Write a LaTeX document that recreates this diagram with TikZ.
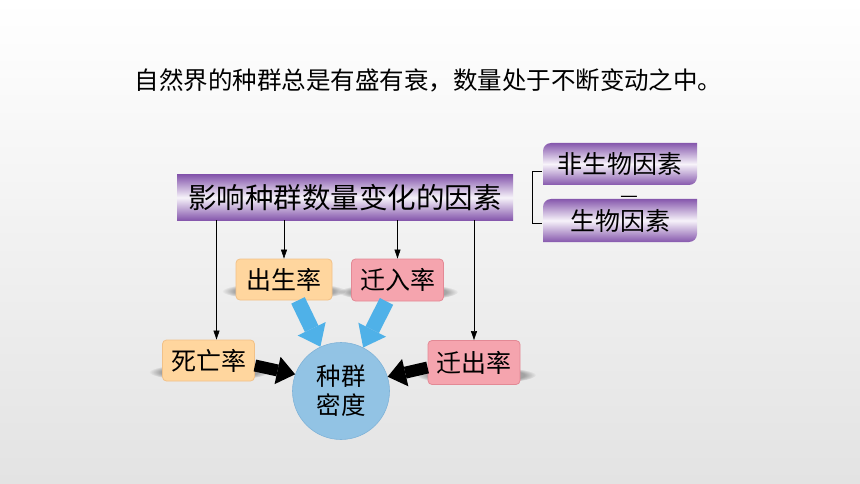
\documentclass[tikz,border=0pt]{standalone}
\usepackage{fontspec}
\setmainfont{Noto Sans CJK SC}
\usetikzlibrary{arrows.meta,calc,fadings,backgrounds}
\definecolor{pur}{HTML}{8658AD}
\definecolor{purlight}{HTML}{F7F3FA}
\definecolor{orangebox}{HTML}{FFD69E}
\definecolor{orangeedge}{HTML}{F1C188}
\definecolor{pinkbox}{HTML}{F5A4AE}
\definecolor{pinkedge}{HTML}{E38995}
\definecolor{densfill}{HTML}{92C3E4}
\definecolor{densedge}{HTML}{80B3D8}
\definecolor{bluearr}{HTML}{4FB1E8}
\newcommand\nwsebox[1]{%
  \shade[purshade] (#1.south west) -- ($(#1.north west)+(0,8)$)
    .. controls ($(#1.north west)+(0,3.6)$) and ($(#1.north west)+(3.6,0)$) .. ($(#1.north west)+(8,0)$)
    -- (#1.north east) -- ($(#1.south east)+(0,-8)$)
    .. controls ($(#1.south east)+(0,-3.6)$) and ($(#1.south east)+(-3.6,0)$) .. ($(#1.south east)+(-8,0)$)
    -- cycle;}
\begin{document}
\begin{tikzpicture}[x=1pt,y=-1pt,
  purshade/.style={top color=pur,bottom color=pur,middle color=purlight},
  purnode/.style={inner sep=0pt,outer sep=0pt,font=\fontsize{25}{28}\selectfont},
  smallbox/.style={rounded corners=4pt,line width=0.8pt,inner sep=0pt,
    minimum width=92pt,minimum height=42pt,font=\fontsize{25}{28}\selectfont},
  orbox/.style={smallbox,fill=orangebox,draw=orangeedge},
  pkbox/.style={smallbox,fill=pinkbox,draw=pinkedge},
  thinarr/.style={line width=0.6pt,-{Triangle[length=9pt,width=6pt]}},
  bluearrow/.style={line width=15pt,draw=bluearr,
    -{Triangle[length=20pt,width=31pt,line width=0pt]}},
  blackarrow/.style={line width=12pt,draw=black,
    -{Triangle[length=18pt,width=28pt,line width=0pt]}},
  shadowfx/.style={black,opacity=0.3,path fading=circle with fuzzy edge 20 percent}]
\useasboundingbox (0,0) rectangle (860,484);
\begin{scope}[on background layer]
  \shade[top color=white,bottom color=black!11] (0,0) rectangle (860,484);
\end{scope}

% title
\node (title) at (428.5,80) {\fontsize{24.5}{28}\selectfont 自然界的种群总是有盛有衰，数量处于不断变动之中。};

% main box
\node[purnode,minimum width=336pt,minimum height=45pt,font=\fontsize{28.5}{32}\selectfont]
  (main) at (345,197.5) {影响种群数量变化的因素};
% right boxes
\node[purnode,minimum width=154pt,minimum height=42pt] (abio) at (620,164) {非生物因素};
\node[purnode,minimum width=154pt,minimum height=43pt] (bio) at (620,220.5) {生物因素};
\begin{scope}[on background layer]
  \shade[purshade] (main.south west) rectangle (main.north east);
  \nwsebox{abio}
  \nwsebox{bio}
\end{scope}
\node (dash) at (629,199) {\fontsize{20}{20}\selectfont —};
\coordinate (b1) at (542,171);
\coordinate (b2) at (542,223);
\draw[line width=0.8pt] (b1) -- ++(-10,0) |- (b2);

% shadows
\fill[shadowfx] (284,291) ellipse (62pt and 9pt);
\fill[shadowfx] (398,292) ellipse (60pt and 9pt);
\fill[shadowfx] (209,372) ellipse (60pt and 9pt);
\fill[shadowfx] (476,375) ellipse (60pt and 9pt);

% small boxes
\node[orbox,minimum width=96pt,minimum height=41pt] (birth) at (284,279.5) {出生率};
\node[pkbox] (immig) at (397.5,280) {迁入率};
\node[orbox,minimum height=41pt] (death) at (208.5,360.5) {死亡率};
\node[pkbox,minimum height=44pt] (emig) at (474,362.5) {迁出率};

% density circle
\node[circle,fill=densfill,draw=densedge,line width=0.6pt,minimum size=97pt,inner sep=0pt,
  align=center,font=\fontsize{24.5}{29}\selectfont] (dens) at (341,391) {种群\\密度};

% thin arrows
\coordinate (dtop) at ([xshift=8pt]death.north);
\draw[thinarr] (dtop |- main.south) -- (dtop);
\draw[thinarr] (birth.north |- main.south) -- (birth.north);
\draw[thinarr] (immig.north |- main.south) -- (immig.north);
\draw[thinarr] (emig.north |- main.south) -- (emig.north);

% block arrows
\draw[bluearrow] ([xshift=14pt]birth.south) -- (dens.115);
\draw[bluearrow] ([xshift=-11pt]immig.south) -- (dens.63);
\draw[blackarrow] ([yshift=-5pt]death.east) -- (dens.160);
\draw[blackarrow] ([yshift=-5pt]emig.west) -- (dens.17);
\end{tikzpicture}
\end{document}
